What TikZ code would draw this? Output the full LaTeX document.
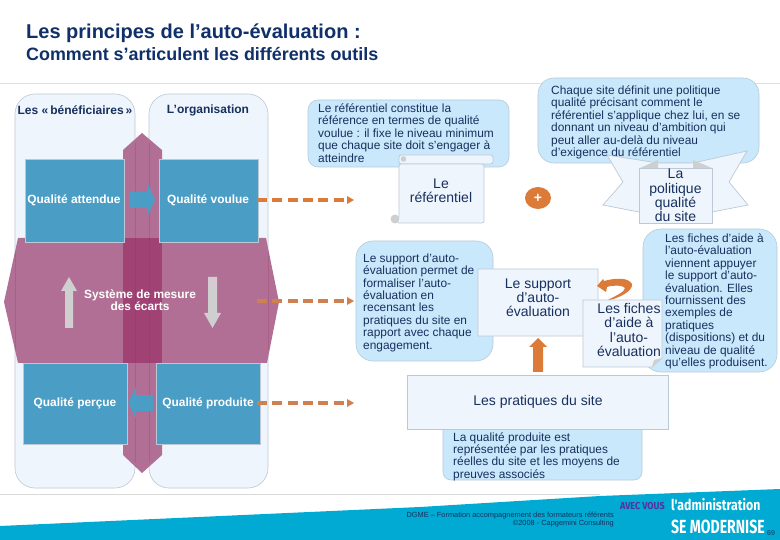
\documentclass[tikz,border=0pt]{standalone}
\usepackage{fontspec}
\setmainfont{Liberation Sans}
\newfontfamily\condf{Fira Sans}
\usetikzlibrary{arrows.meta,shapes.geometric}
\definecolor{bub}{HTML}{C9E8FB}
\definecolor{bubl}{HTML}{B4CBDA}
\definecolor{pale}{HTML}{EFF5FD}
\definecolor{palel}{HTML}{BCC8D6}
\definecolor{plum}{HTML}{B26F95}
\definecolor{plumd}{HTML}{A04274}
\definecolor{plumline}{HTML}{A85F88}
\definecolor{boxb}{HTML}{4A9EC6}
\definecolor{org}{HTML}{DC7A38}
\definecolor{orgs}{HTML}{CF8050}
\definecolor{grayg}{HTML}{CFCFCF}
\definecolor{ink}{HTML}{17305E}
\definecolor{navy}{HTML}{10306A}
\definecolor{teal}{HTML}{00AAD2}
\definecolor{violetb}{HTML}{5B2C9E}
\tikzset{
 x=1pt,y=-1pt,
 panel/.style={draw=palel,fill=pale,line width=.6pt,rounded corners=20pt},
 bubble/.style={draw=bubl,fill=bub,line width=.6pt,rounded corners=#1},
 bubble/.default=10pt,
 paper/.style={draw=palel,fill=pale,line width=.7pt},
 qbox/.style={draw=palel,fill=boxb,line width=.6pt},
 qtext/.style={text=white,font=\fontsize{11.9}{12}\selectfont\bfseries,align=center,inner sep=0pt},
 head/.style={text=ink,font=\fontsize{12}{12}\selectfont\bfseries,inner sep=0pt},
 body/.style={text=ink,font=\fontsize{11.9}{12.4}\selectfont,align=left,anchor=north west,inner sep=0pt},
 big/.style={text=ink,font=\fontsize{14}{14.2}\selectfont,align=center,inner sep=0pt},
 dashline/.style={draw=#1,line width=3.6pt,dash pattern=on 10pt off 5.3pt},
 logo/.style={inner sep=0pt,anchor=west,font=\condf\bfseries},
}
\begin{document}
\begin{tikzpicture}
\useasboundingbox (0,0) rectangle (780,540);
\fill[white] (0,0) rectangle (780,540);
\draw[gray!25,line width=.7pt] (0,83.5) -- (780,83.5);
\node[anchor=west,inner sep=0pt,text=navy,font=\fontsize{20}{20}\selectfont\bfseries] (title) at (26,33.5) {Les principes de l’auto-évaluation :};
\node[anchor=west,inner sep=0pt,text=navy,font=\fontsize{17.9}{18}\selectfont\bfseries] (subtitle) at (26,54) {Comment s’articulent les différents outils};
% panels
\draw[panel] (15,94) rectangle (135,488);
\draw[panel] (149,94) rectangle (268,488);
\node[head] (benef) at (75,110) {Les «\,bénéficiaires\,»};
\node[head] (orga) at (208,110) {L’organisation};
% purple band
\fill[plum] (123,150) -- (142,133) -- (162,150) -- (162,455) -- (142,473) -- (123,455) -- cycle;
\fill[plum] (18,238) -- (266,238) -- (279,302) -- (267,363) -- (18,363) -- (4,302) -- cycle;
\fill[plumd] (123,238) rectangle (162,363);
\draw[plumline,line width=.5pt] (135.5,143) -- (135.5,238) (135.5,363) -- (135.5,462) (149,143) -- (149,238) (149,363) -- (149,462);
\draw[plumd!80!black,opacity=.3,line width=.5pt] (135.5,238) -- (135.5,363) (149,238) -- (149,363);
\draw[plumline,line width=.5pt] (15,252) -- (15,350) (268,252) -- (268,350);
% quality boxes
\draw[qbox] (25,159) rectangle (124.5,242);
\draw[qbox] (159,159) rectangle (258,242);
\draw[qbox] (23.5,363) rectangle (127.5,444);
\draw[qbox] (156,363) rectangle (260,444);
\node[qtext] (qa) at (74,200) {Qualité attendue};
\node[qtext] (qv) at (208,200) {Qualité voulue};
\node[qtext] (qp) at (75,403) {Qualité perçue};
\node[qtext] (qd) at (208,403) {Qualité produite};
\node[qtext] (sys) at (140,300.5) {Système de mesure\\[-.3pt]des écarts};
% blue arrows
\fill[boxb] (129,192) -- (148,192) -- (148,184) -- (155,200) -- (148,215) -- (148,208) -- (129,208) -- cycle;
\fill[boxb] (153,395) -- (136,395) -- (136,387) -- (128,403) -- (136,418) -- (136,411) -- (153,411) -- cycle;
% gray arrows
\fill[grayg] (69,277) -- (77,291) -- (73,291) -- (73,328) -- (65,328) -- (65,291) -- (61,291) -- cycle;
\draw[plum!40!white,line width=.8pt] (65,320) -- (73,320);
\fill[grayg] (212.5,328) -- (221,313) -- (217,313) -- (217,277) -- (208,277) -- (208,313) -- (204,313) -- cycle;
\draw[plum!40!white,line width=.7pt] (208,280) -- (217,280) (208,284) -- (217,284);
% dashed connectors
\coordinate (d1s) at (257,200);
\coordinate (d2s) at (257,301);
\coordinate (d3s) at (257,403);
\coordinate (d1) at (347,200);
\coordinate (d2) at (347,301);
\coordinate (d3) at (347,403);
\draw[dashline=org] (d1s) -- (d1);
\draw[dashline=orgs] (d2s) -- (d2);
\draw[dashline=orgs] (d3s) -- (d3);
\fill[org] (347,196) -- (354,200) -- (347,204) -- cycle;
\fill[orgs] (347,297) -- (354,301) -- (347,305) -- cycle;
\fill[orgs] (347,399) -- (354,403) -- (347,407) -- cycle;
% referentiel
\draw[bubble] (308,100) rectangle (509,167);
\node[body] (t1) at (318,103.5) {Le référentiel constitue la\\référence en termes de qualité\\voulue : il fixe le niveau minimum\\que chaque site doit s'engager à\\atteindre};
\draw[paper,rounded corners=2.5pt] (399,155) rectangle (493,164);
\fill[grayg] (395,219) circle (4.5pt);
\fill[grayg] (403.5,159) circle (2.8pt);
\draw[paper,rounded corners=2pt] (399,164) -- (484,164) -- (484,223) -- (397,223) -- (399,219) -- cycle;
\node[big] (ref) at (441,191) {Le\\référentiel};
% plus
\node[ellipse,fill=org,minimum width=26pt,minimum height=22pt,inner sep=0pt,text=white,font=\fontsize{14}{14}\selectfont\bfseries] (plus) at (538,198) {+};
% politique
\draw[bubble=16pt] (538,78) rectangle (759,163);
\node[body] (t2) at (551,85.5) {Chaque site définit une politique\\qualité précisant comment le\\référentiel s'applique chez lui, en se\\donnant un niveau d'ambition qui\\peut aller au-delà du niveau\\d'exigence du référentiel};
\draw[paper] (607,155) -- (658,163) -- (693,163) -- (747,151) -- (729,182) -- (748,205) -- (712,212) -- (639,212) -- (603,205) -- (623,182) -- cycle;
\fill[grayg] (640,168) -- (658,160) -- (658,168) -- cycle;
\fill[grayg] (693,168) -- (693,160) -- (712,168) -- cycle;
\draw[paper] (639,168) rectangle (712,223);
\node[big] (pol) at (675.5,195.5) {La\\politique\\qualité\\du site};
% support
\draw[bubble=17pt] (356,241) rectangle (493,361);
\node[body] (t3) at (363,253.5) {Le support d'auto-\\évaluation permet de\\formaliser l'auto-\\évaluation en\\recensant les\\pratiques du site en\\rapport avec chaque\\engagement.};
\draw[paper] (478,269) -- (598,269) -- (598,328) -- (588,336) -- (478,336) -- cycle;
\fill[grayg] (598,328) -- (588,336) -- (591,330) -- cycle;
\node[big] (sup) at (538,298) {Le support\\d'auto-\\évaluation};
% fiches bubble
\draw[bubble=18pt] (643,229) rectangle (777,372);
\node[body] (t4) at (665,233.5) {Les fiches d'aide à\\l'auto-évaluation\\viennent appuyer\\le support d'auto-\\évaluation. Elles\\fournissent des\\exemples de\\pratiques\\(dispositions) et du\\niveau de qualité\\qu'elles produisent.};
% curved arrow
\fill[org] (597,286) -- (603,279) -- (604,281) .. controls (615,278) and (628,277) .. (632,284) .. controls (633,291) and (620,298) .. (606,301) .. controls (615,296) and (625,292) .. (625,288) .. controls (623,285) and (612,285) .. (607,287) -- (606,292) -- cycle;
\draw[paper] (583,300) -- (662,300) -- (662,358) -- (652,367) -- (583,367) -- cycle;
\fill[grayg] (662,358) -- (652,367) -- (654,360) -- cycle;
\node[big] (fic) at (629,330) {Les fiches\\d'aide à\\l'auto-\\évaluation};
% up arrow
\fill[org] (533,372) -- (533,347) -- (529,347) -- (538,338) -- (547,347) -- (543,347) -- (543,372) -- cycle;
% pratiques
\draw[bubble=8pt] (443,420) rectangle (642,480);
\node[body,font=\fontsize{11.9}{12.2}\selectfont] (t5) at (453,432.5) {La qualité produite est\\représentée par les pratiques\\réelles du site et les moyens de\\preuves associés};
\draw[paper] (407,375) rectangle (668,429);
\node[big] (prat) at (538,401.5) {Les pratiques du site};
% footer
\draw[gray!30,line width=.7pt] (0,494.5) -- (600,494.5);
\fill[teal] (0,526) -- (420,507) -- (600,496) -- (780,489) -- (780,540) -- (0,540) -- cycle;
\node[inner sep=0pt,anchor=east,align=right,text=ink,font=\fontsize{7.4}{7.5}\selectfont] (foot) at (614,519.5) {DGME -- Formation accompagnement des formateurs référents\\©2008 - Capgemini Consulting};
\node[logo,text=violetb,font=\condf\bfseries\fontsize{10}{10}\selectfont] (avec) at (620,506) {\scalebox{.9}[1]{AVEC VOUS}};
\node[logo,text=white,font=\condf\bfseries\fontsize{15}{15}\selectfont] (adm) at (671,505) {\scalebox{.82}[1]{l'administration}};
\node[logo,text=white,font=\condf\bfseries\fontsize{19}{19}\selectfont] (sem) at (671,527) {\scalebox{.74}[1]{SE MODERNISE}};
\node[inner sep=0pt,text=ink,font=\fontsize{7}{7}\selectfont] (num) at (771,533.5) {69};
\end{tikzpicture}
\end{document}
